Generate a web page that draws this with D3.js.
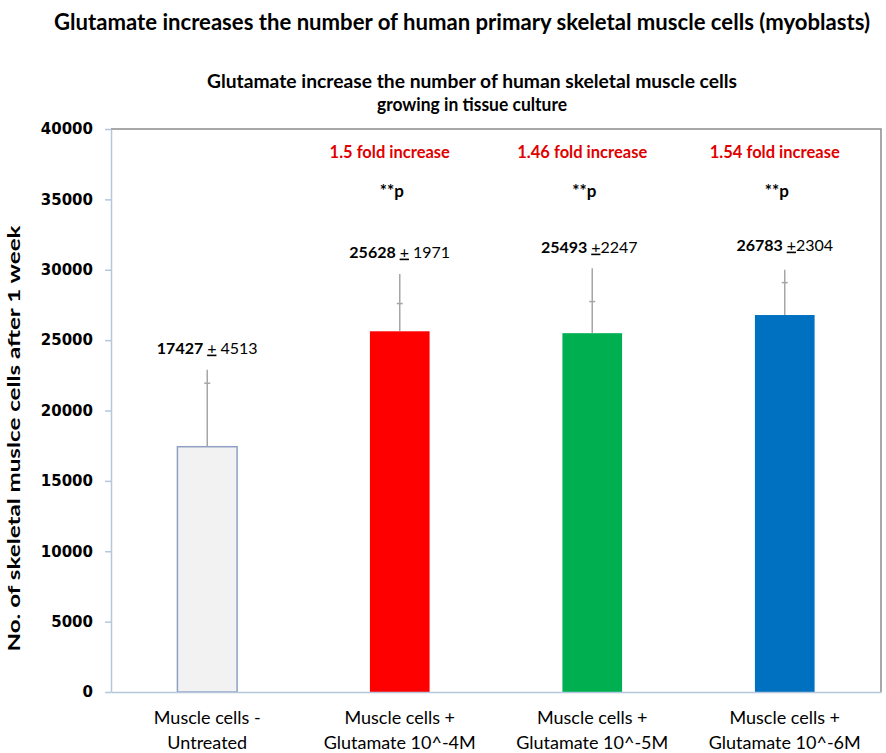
<!DOCTYPE html>
<html>
<head>
<meta charset="utf-8">
<script src="https://cdn.jsdelivr.net/npm/d3@7"></script>
<style>
  body { margin: 0; background: #fff; }
  text { font-family: Lato, "Open Sans", sans-serif; }
</style>
</head>
<body>
<div id="chart"></div>
<script>
// data
let groups = ["Muscle cells - Untreated", "Muscle cells + Glutamate 10^-4M", "Muscle cells + Glutamate 10^-5M", "Muscle cells + Glutamate 10^-6M"]
let labelLines = [["Muscle cells -", "Untreated"], ["Muscle cells +", "Glutamate 10^-4M"], ["Muscle cells +", "Glutamate 10^-5M"], ["Muscle cells +", "Glutamate 10^-6M"]]
let means = [17427, 25628, 25493, 26783]
let sds = [4513, 1971, 2247, 2304]
let whiskerTop = [22900, 29700, 30100, 30000]
let sdText = ["\u00a04513", "\u00a01971", "2247", "2304"]
let foldText = [null, "1.5 fold increase", "1.46 fold increase", "1.54 fold increase"]
let sigText = [null, "**p", "**p", "**p"]
let colors = ["#f2f2f2", "#ff0000", "#00b050", "#0070c0"]
let yTicks = [0, 5000, 10000, 15000, 20000, 25000, 30000, 35000, 40000]

let W = 886, H = 753
let margin = { top: 129, right: 5, bottom: 61, left: 111 }

let svg = d3.select("#chart").append("svg")
  .attr("width", W).attr("height", H)

let x = d3.scaleBand()
  .domain(groups)
  .range([margin.left, W - margin.right])
  .paddingInner(0.69).paddingOuter(0.345)

let y = d3.scaleLinear()
  .domain([0, 40000])
  .range([H - margin.bottom, margin.top])

let cx = d => x(d) + x.bandwidth() / 2

// titles
svg.append("text")
  .attr("x", 462).attr("y", 30)
  .attr("text-anchor", "middle")
  .style("font-weight", "bold").style("font-size", "22px")
  .attr("textLength", 816).attr("lengthAdjust", "spacingAndGlyphs")
  .text("Glutamate increases the number of human primary skeletal muscle cells (myoblasts)")

svg.append("text")
  .attr("x", 472).attr("y", 88)
  .attr("text-anchor", "middle")
  .style("font-weight", "bold").style("font-size", "18px")
  .attr("textLength", 530).attr("lengthAdjust", "spacingAndGlyphs")
  .text("Glutamate increase the number of human skeletal muscle cells")

svg.append("text")
  .attr("x", 472).attr("y", 111)
  .attr("text-anchor", "middle")
  .style("font-weight", "bold").style("font-size", "18px")
  .attr("textLength", 190).attr("lengthAdjust", "spacingAndGlyphs")
  .text("growing in tissue culture")

// frame: top and right
svg.append("path")
  .attr("d", `M${margin.left},${margin.top}H${W - margin.right}V${y(0)}`)
  .attr("fill", "none").attr("stroke", "#8c8c8c").attr("stroke-width", 1.5)

// bars
svg.append("g").selectAll("rect")
  .data(groups)
  .join("rect")
    .attr("x", d => x(d))
    .attr("y", (d, i) => y(means[i]))
    .attr("width", x.bandwidth())
    .attr("height", (d, i) => y(0) - y(means[i]))
    .attr("fill", (d, i) => colors[i])
    .attr("stroke", (d, i) => i == 0 ? "#8fa0c4" : "none")
    .attr("stroke-width", 1.5)

// error bars
let eb = svg.append("g").attr("stroke", "#a6a6a6").attr("stroke-width", 1.5)
eb.selectAll("line.whisk")
  .data(groups)
  .join("line").attr("class", "whisk")
    .attr("x1", cx).attr("x2", cx)
    .attr("y1", (d, i) => y(means[i]))
    .attr("y2", (d, i) => y(whiskerTop[i]))
eb.selectAll("line.cap")
  .data(groups)
  .join("line").attr("class", "cap")
    .attr("x1", d => cx(d) - 3).attr("x2", d => cx(d) + 3)
    .attr("y1", (d, i) => y(means[i] + sds[i]))
    .attr("y2", (d, i) => y(means[i] + sds[i]))

// value labels
let valY = [348, 252, 247, 245]
let valDx = [0, 0, -3, 0]
let vl = svg.append("g").selectAll("text")
  .data(groups)
  .join("text")
    .attr("x", (d, i) => cx(d) + valDx[i])
    .attr("y", (d, i) => valY[i])
    .attr("dy", "0.35em")
    .attr("text-anchor", "middle")
    .style("font-size", "16px")
vl.append("tspan").style("font-weight", "bold").text((d, i) => means[i] + "\u00a0")
vl.append("tspan").style("text-decoration", "underline").text("+")
vl.append("tspan").text((d, i) => sdText[i])

// fold increase + significance
svg.append("g").selectAll("text")
  .data(groups.filter((d, i) => foldText[i]))
  .join("text")
    .attr("x", d => cx(d) - 10)
    .attr("y", 152).attr("dy", "0.35em")
    .attr("text-anchor", "middle")
    .attr("fill", "#e00000")
    .style("font-weight", "bold").style("font-size", "16.5px")
    .text(d => foldText[groups.indexOf(d)])

svg.append("g").selectAll("text")
  .data(groups.filter((d, i) => sigText[i]))
  .join("text")
    .attr("x", d => cx(d) - 8)
    .attr("y", 191).attr("dy", "0.35em")
    .attr("text-anchor", "middle")
    .style("font-weight", "bold").style("font-size", "17px")
    .text(d => sigText[groups.indexOf(d)])

// axes
let yAxis = g => g
  .attr("transform", `translate(${margin.left},0)`)
  .call(d3.axisLeft(y).tickValues(yTicks).tickSize(6).tickSizeOuter(0).tickFormat(d => d))
  .call(g => g.selectAll("line, path").attr("stroke", "#b4c7dc").attr("stroke-width", 1.5))
  .call(g => g.selectAll("text")
    .attr("fill", "#000")
    .style("font-family", "'DejaVu Sans', sans-serif")
    .style("font-weight", "bold").style("font-size", "15px")
    .attr("x", -18))

svg.append("g").call(yAxis)

let xAxis = g => g
  .attr("transform", `translate(0,${y(0)})`)
  .call(d3.axisBottom(x).tickSize(0).tickFormat(""))
  .call(g => g.select(".domain").attr("stroke", "#b4c7dc").attr("stroke-width", 1.5))

svg.append("g").call(xAxis)

let xl = svg.append("g").selectAll("text")
  .data(groups)
  .join("text")
    .attr("x", cx)
    .attr("y", 724)
    .attr("text-anchor", "middle")
    .style("font-size", "18px")
xl.append("tspan").text((d, i) => labelLines[i][0])
xl.append("tspan")
  .attr("x", cx)
  .attr("dy", 25)
  .text((d, i) => labelLines[i][1])

// y label
svg.append("text")
  .attr("transform", `translate(20,${(margin.top + y(0)) / 2 + 28}) rotate(-90)`)
  .attr("text-anchor", "middle")
  .style("font-weight", "bold").style("font-size", "17px")
  .attr("textLength", 426).attr("lengthAdjust", "spacingAndGlyphs")
  .text("No. of skeletal muslce cells after 1 week")
</script>
</body>
</html>
